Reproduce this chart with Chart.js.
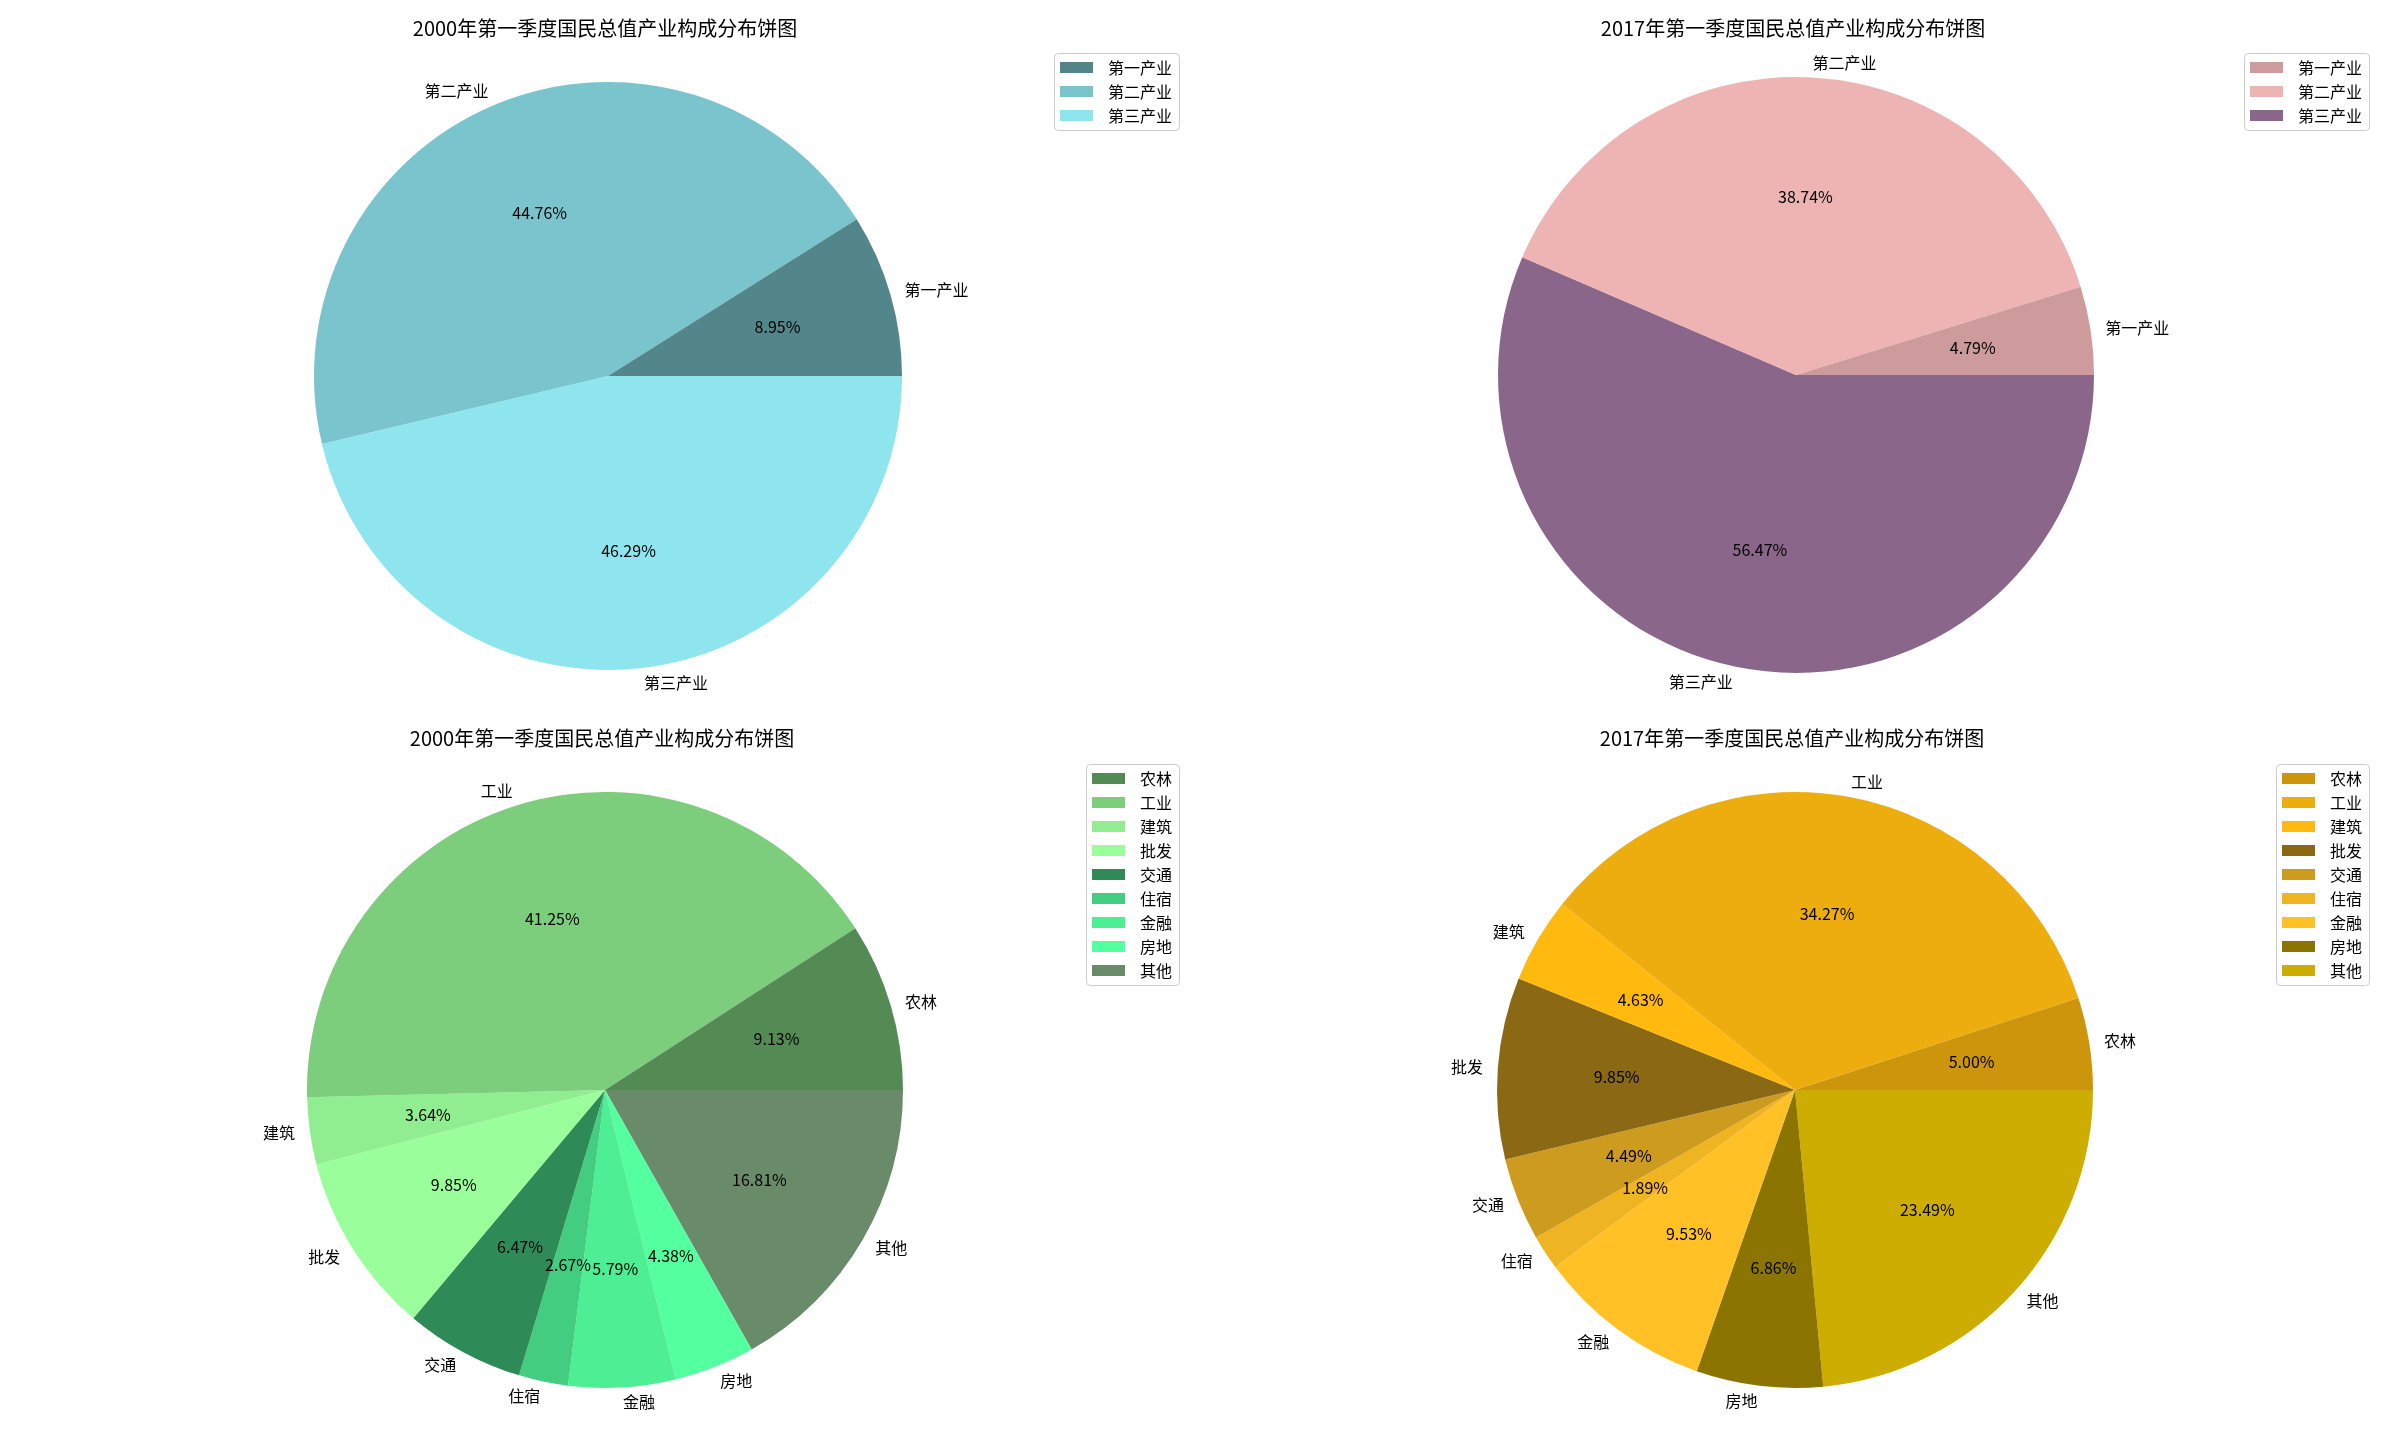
<!DOCTYPE html>
<html>
<head>
<meta charset="utf-8">
<script src="https://cdn.jsdelivr.net/npm/chart.js@4/dist/chart.umd.min.js"></script>
<style>
  body { margin: 0; background: #fff; width: 2400px; height: 1440px; overflow: hidden; }
  canvas { position: absolute; width: 1200px; height: 720px; }
</style>
</head>
<body>
<canvas id="tl" width="1200" height="720" style="left:0;top:0"></canvas>
<canvas id="tr" width="1200" height="720" style="left:1200px;top:0"></canvas>
<canvas id="bl" width="1200" height="720" style="left:0;top:720px"></canvas>
<canvas id="br" width="1200" height="720" style="left:1200px;top:720px"></canvas>
<script>
// data (percent of GDP, Q1)
const title2000 = '2000年第一季度国民总值产业构成分布饼图';
const title2017 = '2017年第一季度国民总值产业构成分布饼图';

const sectorLabels = ['第一产业', '第二产业', '第三产业'];
const sector2000 = [8.95, 44.76, 46.29];
const sector2017 = [4.79, 38.74, 56.47];

const industryLabels = ['农林', '工业', '建筑', '批发', '交通', '住宿', '金融', '房地', '其他'];
const industry2000 = [9.13, 41.25, 3.64, 9.85, 6.47, 2.67, 5.79, 4.38, 16.81];
const industry2017 = [5.00, 34.27, 4.63, 9.85, 4.49, 1.89, 9.53, 6.86, 23.49];

const sectorColors2000 = ['#53868B', '#7AC5CD', '#8EE5EE'];
const sectorColors2017 = ['#CD9B9B', '#EEB4B4', '#8B668B'];
const industryColors2000 = ['#548B54', '#7CCD7C', '#90EE90', '#9AFF9A', '#2E8B57', '#43CD80', '#4EEE94', '#54FF9F', '#698B69'];
const industryColors2017 = ['#CD950C', '#EEAD0E', '#FFB90F', '#8B6914', '#CD9B1D', '#EEB422', '#FFC125', '#8B7500', '#CDAD00'];

const FONT = '"Noto Sans CJK SC", "Noto Sans", sans-serif';

// labels, percentages, title and legend drawn like matplotlib's pie
const pieText = {
    id: 'pieText',
    afterDatasetsDraw(chart, args, opts) {
        const ctx = chart.ctx;
        const meta = chart.getDatasetMeta(0);
        const labels = chart.data.labels;
        const values = chart.data.datasets[0].data;
        ctx.save();
        ctx.fillStyle = '#000';
        ctx.textBaseline = 'middle';
        meta.data.forEach((arc, i) => {
            const p = arc.getProps(['x', 'y', 'startAngle', 'endAngle', 'outerRadius'], true);
            const mid = (p.startAngle + p.endAngle) / 2;
            const c = Math.cos(mid), s = Math.sin(mid);
            ctx.font = '16px ' + FONT;
            ctx.textAlign = c > 0 ? 'left' : 'right';
            ctx.fillText(labels[i], p.x + 1.05 * p.outerRadius * c, p.y + 1.05 * p.outerRadius * s);
            ctx.textAlign = 'center';
            ctx.fillText(values[i].toFixed(2) + '%', p.x + 0.6 * p.outerRadius * c, p.y + 0.6 * p.outerRadius * s);
        });

        // title
        ctx.font = '20px ' + FONT;
        ctx.textAlign = 'center';
        ctx.fillText(opts.title, opts.titleX, opts.titleY);

        // legend, original order
        ctx.font = '16px ' + FONT;
        const names = opts.legendNames, cols = opts.legendColors;
        let tw = 0;
        names.forEach(n => { tw = Math.max(tw, ctx.measureText(n).width); });
        const w = 6 + 33 + 15 + tw + 7;
        const h = 29 + (names.length - 1) * 24;
        const x0 = opts.legendRight - w, y0 = opts.legendTop;
        ctx.beginPath();
        ctx.roundRect(x0 + 0.5, y0 + 0.5, w, h, 4);
        ctx.fillStyle = 'rgba(255,255,255,0.8)';
        ctx.fill();
        ctx.strokeStyle = '#cccccc';
        ctx.lineWidth = 1;
        ctx.stroke();
        ctx.textAlign = 'left';
        names.forEach((n, i) => {
            const cy = y0 + 14.5 + i * 24;
            ctx.fillStyle = cols[i];
            ctx.fillRect(x0 + 6, cy - 5.5, 33, 11);
            ctx.fillStyle = '#000';
            ctx.fillText(n, x0 + 54, cy);
        });
        ctx.restore();
    }
};

// matplotlib goes counter-clockwise from 3 o'clock: feed the slices reversed, start at 90deg
function makePie(id, labels, values, colors, cx, cy, r, title, titleY, legendRight, legendTop) {
    const rev = a => a.slice().reverse();
    new Chart(document.getElementById(id), {
        type: 'pie',
        data: {
            labels: rev(labels),
            datasets: [{
                data: rev(values),
                backgroundColor: rev(colors),
                borderWidth: 0,
                hoverOffset: 0
            }]
        },
        options: {
            responsive: false,
            devicePixelRatio: 1,
            animation: false,
            rotation: 90,
            layout: {
                padding: { left: cx - r, right: 1200 - cx - r, top: cy - r, bottom: 720 - cy - r }
            },
            plugins: {
                legend: { display: false },
                tooltip: { enabled: false },
                pieText: {
                    title: title, titleX: cx - 3, titleY: titleY,
                    legendNames: labels, legendColors: colors,
                    legendRight: legendRight, legendTop: legendTop
                }
            }
        },
        plugins: [pieText]
    });
}

makePie('tl', sectorLabels, sector2000, sectorColors2000, 608, 376, 294, title2000, 28, 1179, 53);
makePie('tr', sectorLabels, sector2017, sectorColors2017, 596, 375, 298, title2017, 28, 1169, 53);
makePie('bl', industryLabels, industry2000, industryColors2000, 605, 370, 298, title2000, 18, 1179, 44);
makePie('br', industryLabels, industry2017, industryColors2017, 595, 370, 298, title2017, 18, 1169, 44);
</script>
</body>
</html>
